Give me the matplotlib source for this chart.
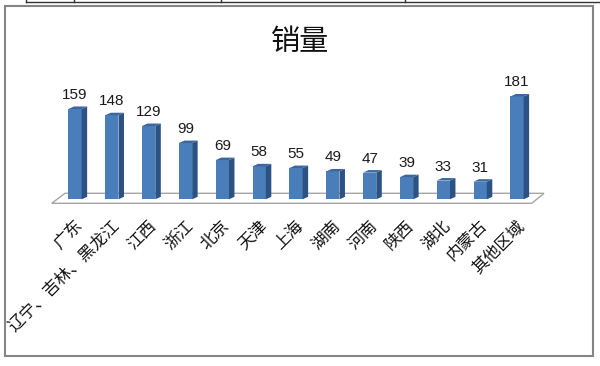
import matplotlib
matplotlib.use('Agg')
import matplotlib.pyplot as plt
from matplotlib.patches import Polygon, Rectangle
from matplotlib.lines import Line2D
import matplotlib.transforms as mtransforms

plt.rcParams['font.family'] = ['Noto Sans CJK SC', 'DejaVu Sans']

categories = ['广东', '辽宁、吉林、黑龙江', '江西', '浙江', '北京', '天津', '上海',
              '湖南', '河南', '陕西', '湖北', '内蒙古', '其他区域']
values = [159, 148, 129, 99, 69, 58, 55, 49, 47, 39, 33, 31, 181]
title = '销量'

W, H = 600, 366
fig = plt.figure(figsize=(W / 100, H / 100), dpi=100)
fig.patch.set_facecolor('white')

# axes geometry (pixels)
base_px = 199.3
px_per_unit = 0.568
ymax = 200
ax_left_px, ax_right_px = 56.6, 535.4
ax = fig.add_axes([ax_left_px / W, (H - base_px) / H,
                   (ax_right_px - ax_left_px) / W, px_per_unit * ymax / H])
ax.set_xlim(-0.5, len(values) - 0.5)
ax.set_ylim(0, ymax)
ax.axis('off')

# conversion pixel -> data
xdpp = (len(values)) / (ax_right_px - ax_left_px)
ydpp = 1.0 / px_per_unit

front = '#4a7ebb'
side = '#2c5283'
top = '#3b679e'
bw = 0.36
ddx, ddy = 5.5 * xdpp, 2.5 * ydpp

# floor
n = len(values)
fx0, fx1 = (51.7 - 75) / 36.83, (531.7 - 75) / 36.83
fy_front = -(203.3 - base_px) * ydpp
bx0, bx1 = fx0 + 13.3 * xdpp, fx1 + 12.3 * xdpp
fy_back = (base_px - 193.3) * ydpp
floor = Polygon([(fx0, fy_front), (fx1, fy_front), (bx1, fy_back), (bx0, fy_back)],
                closed=True, facecolor='white', edgecolor='#a6a6a6', lw=1.0,
                clip_on=False, zorder=1)
ax.add_patch(floor)

xs = list(range(n))
ax.bar(xs, values, width=bw, color=front, edgecolor='none', zorder=3, clip_on=False)
for x, v in zip(xs, values):
    r = x + bw / 2
    l = x - bw / 2
    ax.add_patch(Polygon([(r, 0), (r + ddx, ddy), (r + ddx, v + ddy), (r, v)],
                         closed=True, facecolor=side, edgecolor='none', zorder=3, clip_on=False))
    ax.add_patch(Polygon([(l, v), (r, v), (r + ddx, v + ddy), (l + ddx, v + ddy)],
                         closed=True, facecolor=top, edgecolor='none', zorder=3, clip_on=False))
    lab = mtransforms.offset_copy(ax.transData, fig=fig, x=0, y=14, units='dots')
    ax.text(x, v, str(v), transform=lab, ha='center', va='center', fontsize=11,
            family=['Liberation Sans', 'DejaVu Sans'], color='#1a1a1a', clip_on=False)

# category labels
tl = mtransforms.offset_copy(ax.get_xaxis_transform(), fig=fig, x=-1, y=-18, units='dots')
for x, c in zip(xs, categories):
    ax.text(x, 0, c, transform=tl, rotation=45, rotation_mode='anchor',
            ha='right', va='top', fontsize=12, color='#111111', clip_on=False)

# title
fig.text(0.5, 1 - 42 / H, title, ha='center', va='center', fontsize=21, color='#111111')

# chart border
fig.add_artist(Rectangle((4.5 / W, 1 - 356 / H), (593 - 4.5) / W, (356 - 5.5) / H,
                         transform=fig.transFigure, fill=False, edgecolor='#858585', lw=1.5))

# table remnant at the top
def hline(x0, x1, y):
    fig.add_artist(Line2D([x0 / W, x1 / W], [1 - y / H, 1 - y / H], transform=fig.transFigure,
                          color='#333333', lw=1.0))
def vline(x, y0, y1):
    fig.add_artist(Line2D([x / W, x / W], [1 - y0 / H, 1 - y1 / H], transform=fig.transFigure,
                          color='#333333', lw=1.0))
hline(26, 600, 2.2)
for vx in (26, 74, 221, 405):
    vline(vx, 0, 2.2)

fig.savefig('out.png', dpi=100, facecolor='white')
